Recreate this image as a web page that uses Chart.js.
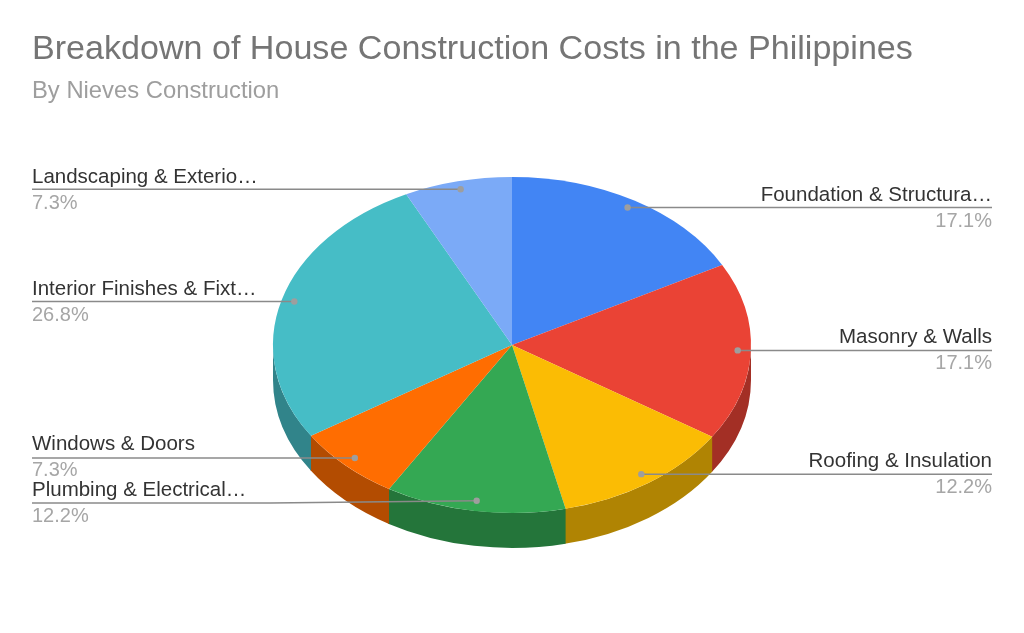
<!DOCTYPE html>
<html>
<head>
<meta charset="utf-8">
<title>Breakdown of House Construction Costs in the Philippines</title>
<script src="https://cdn.jsdelivr.net/npm/chart.js@4"></script>
<style>
  html, body { margin: 0; background: #fff; }
  canvas { display: block; }
</style>
</head>
<body>
<canvas id="costChart" width="1024" height="633"></canvas>
<script>
const categories = [
  "Foundation & Structura…",
  "Masonry & Walls",
  "Roofing & Insulation",
  "Plumbing & Electrical…",
  "Windows & Doors",
  "Interior Finishes & Fixt…",
  "Landscaping & Exterio…"
];
const shares = [17.1, 17.1, 12.2, 12.2, 7.3, 26.8, 7.3];

const topColors = ["#4285f4", "#ea4335", "#fbbc04", "#34a853", "#ff6d01", "#46bdc6", "#7baaf7"];
const sideColors = ["#2e5dab", "#a32f25", "#b08403", "#24753a", "#b34c01", "#31848a", "#5677ad"];

// where each label's leader line runs, and which side it sits on
const lineY = [208, 350, 474, 503, 457, 302, 190];
const lineSide = ["right", "right", "right", "left", "left", "left", "left"];

const FONT = '"Liberation Sans", Arial, sans-serif';
const TILT = 0.703;
const DEPTH = 35;
const LEFT_X = 32;
const RIGHT_X = 992;
const ELBOW_X = 270;

const tiltPlugin = {
  id: "tilt",
  beforeDatasetDraw(chart) {
    const ctx = chart.ctx;
    const arcs = chart.getDatasetMeta(0).data;
    const cx = arcs[0].x;
    const cy = arcs[0].y;
    const R = arcs[0].outerRadius;
    // side wall: only the part of each slice that faces the viewer (lower half)
    arcs.forEach((arc, i) => {
      const full = Math.PI * 2;
      for (const turn of [0, full]) {
        const from = Math.max(arc.startAngle + turn, 0);
        const to = Math.min(arc.endAngle + turn, Math.PI);
        if (to <= from) continue;
        const end = Math.min(to + 0.004, Math.PI);
        ctx.fillStyle = sideColors[i];
        ctx.beginPath();
        ctx.ellipse(cx, cy, R, R * TILT, 0, from, end);
        ctx.ellipse(cx, cy + DEPTH, R, R * TILT, 0, end, from, true);
        ctx.closePath();
        ctx.fill();
      }
    });
    ctx.save();
    ctx.translate(0, cy);
    ctx.scale(1, TILT);
    ctx.translate(0, -cy);
  },
  afterDatasetDraw(chart) {
    chart.ctx.restore();
  }
};

const labelPlugin = {
  id: "pieLabels",
  afterDraw(chart) {
    const ctx = chart.ctx;
    const arcs = chart.getDatasetMeta(0).data;
    arcs.forEach((arc, i) => {
      const mid = (arc.startAngle + arc.endAngle) / 2;
      const r = arc.outerRadius * 0.945;
      const px = arc.x + Math.cos(mid) * r;
      const py = arc.y + Math.sin(mid) * r * TILT - 1;
      const right = lineSide[i] === "right";
      const endX = right ? RIGHT_X : LEFT_X;
      const bent = Math.abs(py - lineY[i]) > 1;
      const y = bent ? lineY[i] : py;

      ctx.strokeStyle = "#8a8a8a";
      ctx.lineWidth = 1.5;
      ctx.beginPath();
      ctx.moveTo(px, py);
      if (bent) ctx.lineTo(ELBOW_X, y);
      ctx.lineTo(endX, y);
      ctx.stroke();

      ctx.fillStyle = "#9e9e9e";
      ctx.beginPath();
      ctx.arc(px, py, 3.2, 0, Math.PI * 2);
      ctx.fill();

      ctx.textAlign = right ? "right" : "left";
      ctx.textBaseline = "alphabetic";
      ctx.font = "20.5px " + FONT;
      ctx.fillStyle = "#333333";
      ctx.fillText(categories[i], endX, lineY[i] - 7);
      ctx.font = "20px " + FONT;
      ctx.fillStyle = "#a6a6a6";
      ctx.fillText(shares[i].toFixed(1) + "%", endX, lineY[i] + 19);
    });
  }
};

new Chart(document.getElementById("costChart"), {
  type: "pie",
  data: {
    labels: categories,
    datasets: [{
      data: shares,
      backgroundColor: topColors,
      borderWidth: 0
    }]
  },
  options: {
    responsive: false,
    animation: false,
    radius: 239,
    layout: { padding: { left: LEFT_X, right: 1024 - RIGHT_X, top: 29, bottom: 48.6 } },
    plugins: {
      legend: { display: false },
      tooltip: { enabled: false },
      title: {
        display: true,
        text: "Breakdown of House Construction Costs in the Philippines",
        align: "start",
        color: "#757575",
        font: { family: FONT, size: 34.1, weight: "normal" },
        padding: { top: 0, bottom: 7 }
      },
      subtitle: {
        display: true,
        text: "By Nieves Construction",
        align: "start",
        color: "#9e9e9e",
        font: { family: FONT, size: 23.8, weight: "normal" },
        padding: { top: 0, bottom: 0 }
      }
    }
  },
  plugins: [tiltPlugin, labelPlugin]
});
</script>
</body>
</html>
